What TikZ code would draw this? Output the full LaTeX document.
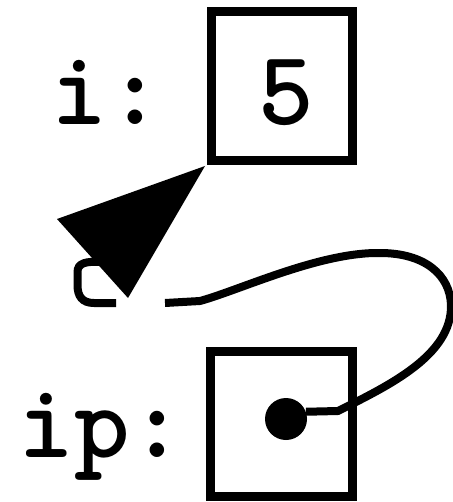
\documentclass[tikz,border=0pt]{standalone}
\begin{document}
\begin{tikzpicture}[x=1pt,y=-1pt,
  cell/.style={draw, line width=9pt, inner sep=0pt, outer sep=0pt, minimum width=141.5pt},
  lbl/.style={inner sep=0pt, anchor=base, font=\ttfamily\bfseries\fontsize{106}{106}\selectfont},
  link/.style={line width=8pt}]
\useasboundingbox (0,0) rectangle (452,502);
\node[cell, minimum height=149.5pt] (top) at (281.75,86.25) {};
\node[cell, minimum height=145pt] (bot) at (281.5,424.25) {};
\node[lbl] (ilbl) at (107,125) {i:};
\node[lbl] (five) at (286,125) {5};
\node[lbl] (iplbl) at (102,457) {ip:};
\node[circle, fill, minimum size=42pt, inner sep=0pt] (dot) at (286,419) {};
\coordinate (gapR) at (165,303);
\coordinate (gapL) at (116,303);
\coordinate (ab) at (102,262);
\coordinate (tip) at ([shift={(-6,5)}]top.south west);
\draw[link] (dot.20) -- (338,411) .. controls (390,385) and (452,355) .. (451,305)
  .. controls (450,275) and (425,253) .. (380,253)
  .. controls (320,252) and (240,290) .. (200,301) -- (gapR);
\draw[link] (gapL) -- (94,303) .. controls (82,303) and (77.5,296) .. (77.5,285)
  -- (77.5,272) .. controls (77.5,263) and (86,261) .. (ab);
\fill (tip) -- (57,219) -- (128,298) -- cycle;
\end{tikzpicture}
\end{document}
